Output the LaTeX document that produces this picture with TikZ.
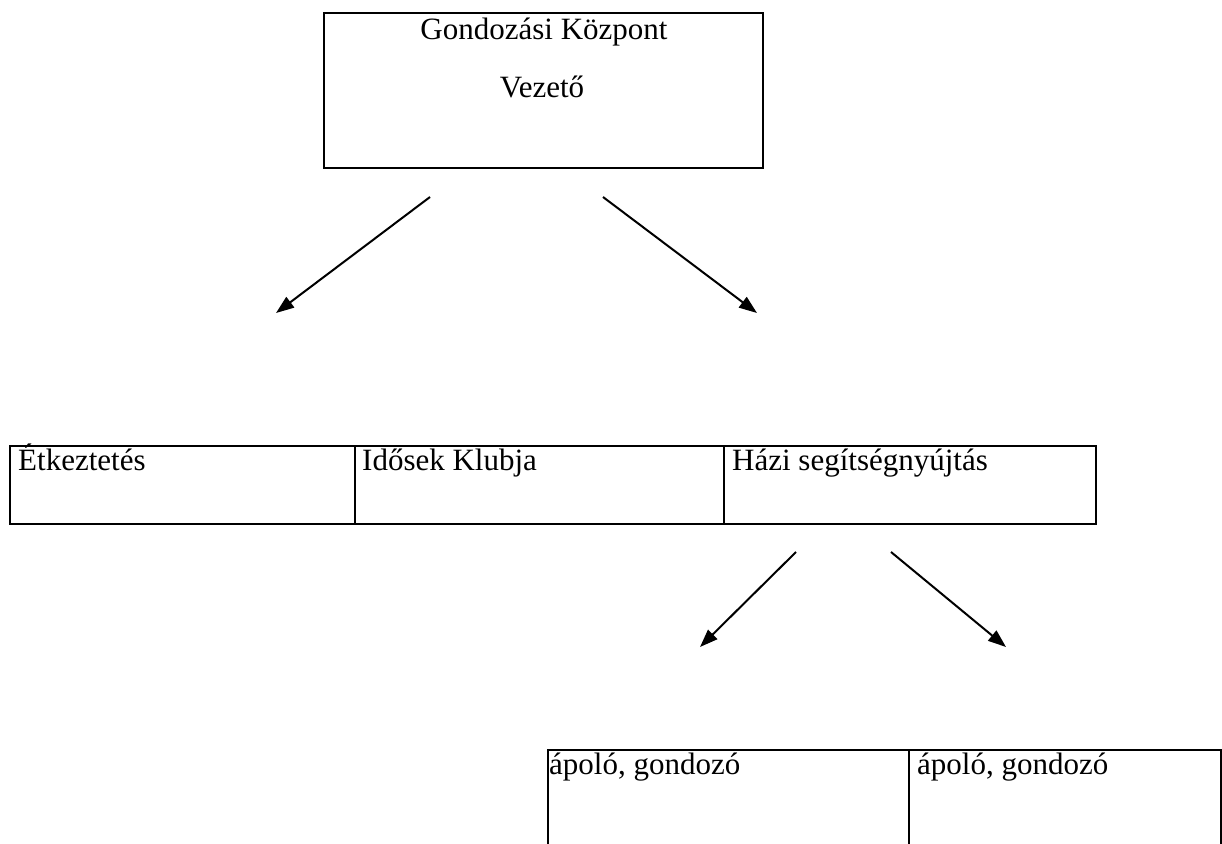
\documentclass[tikz,border=0pt]{standalone}
\usepackage{fontspec}
\setmainfont{Liberation Serif}
\usetikzlibrary{arrows.meta}
\tikzset{
  cell/.style={draw, line width=2pt, rectangle, anchor=north west, inner sep=0pt},
  lbl/.style={anchor=base west, inner sep=0pt, font=\fontsize{31}{37}\selectfont},
  ctr/.style={anchor=base, inner sep=0pt, font=\fontsize{31}{37}\selectfont},
  arr/.style={line width=2pt, -{Triangle[length=18pt,width=13pt]}}
}
\begin{document}
\begin{tikzpicture}[x=1pt,y=-1pt]
\useasboundingbox (0,0) rectangle (1222,843);
\clip (0,0) rectangle (1222,843);
% top box
\node[cell, minimum width=439pt, minimum height=155pt] (top) at (323,12) {};
\node[ctr] (g1) at (544,40) {Gondozási Központ};
\node[ctr] (g2) at (542,97) {Vezető};
% row
\node[cell, minimum width=345pt, minimum height=78pt] (c1) at (9,445) {};
\node[cell, minimum width=369pt, minimum height=78pt] (c2) at (354,445) {};
\node[cell, minimum width=372pt, minimum height=78pt] (c3) at (723,445) {};
\node[lbl] (t1) at (18,470) {Étkeztetés};
\node[lbl] (t2) at (362,470) {Idősek Klubja};
\node[lbl] (t3) at (732,470) {Házi segítségnyújtás};
% bottom
\node[cell, minimum width=361pt, minimum height=120pt] (d1) at (547,749) {};
\node[cell, minimum width=312pt, minimum height=120pt] (d2) at (908,749) {};
\node[lbl] (u1) at (549,774) {ápoló, gondozó};
\node[lbl] (u2) at (917,774) {ápoló, gondozó};
% arrows
\coordinate (a1s) at (430,197);
\coordinate (a1e) at (276,313);
\coordinate (a2s) at (603,197);
\coordinate (a2e) at (757,313);
\coordinate (b1s) at (796,552);
\coordinate (b1e) at (700,647);
\coordinate (b2s) at (891,552);
\coordinate (b2e) at (1006,647);
\draw[arr] (a1s) -- (a1e);
\draw[arr] (a2s) -- (a2e);
\draw[arr] (b1s) -- (b1e);
\draw[arr] (b2s) -- (b2e);
\end{tikzpicture}
\end{document}
